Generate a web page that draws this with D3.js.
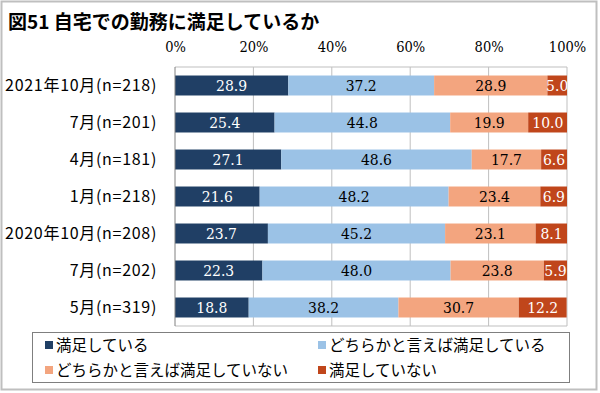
<!DOCTYPE html>
<html>
<head>
<meta charset="utf-8">
<script src="https://cdn.jsdelivr.net/npm/d3@7"></script>
<style>
    body { margin: 0; background: #fff; }
    .cat { font-family: "Noto Sans CJK JP", "Noto Sans", sans-serif; font-size: 16px; letter-spacing: 0.7px; fill: #000; }
    .tick-label { font-family: "DejaVu Serif Condensed", "DejaVu Serif", serif; font-stretch: condensed; font-size: 14.5px; }
    .val { font-family: "DejaVu Serif Condensed", "DejaVu Serif", serif; font-stretch: condensed; font-size: 15.5px; }
    .legend { font-family: "Noto Sans CJK JP", "Noto Sans", sans-serif; font-size: 15.5px; }
</style>
</head>
<body>
<div id="chart"></div>
<script>
/*
 * 図51 自宅での勤務に満足しているか
 * 100% stacked horizontal bars, one bar per survey wave.
 */

// Data
// --------------------------------------------------------------------------------------------
const title = "図51 自宅での勤務に満足しているか"

const categories = ["2021年10月(n=218)", "7月(n=201)", "4月(n=181)", "1月(n=218)",
                    "2020年10月(n=208)", "7月(n=202)", "5月(n=319)"]

const seriesNames = ["満足している", "どちらかと言えば満足している",
                     "どちらかと言えば満足していない", "満足していない"]

const satisfied       = [28.9, 25.4, 27.1, 21.6, 23.7, 22.3, 18.8]
const ratherSatisfied = [37.2, 44.8, 48.6, 48.2, 45.2, 48.0, 38.2]
const ratherNot       = [28.9, 19.9, 17.7, 23.4, 23.1, 23.8, 30.7]
const notSatisfied    = [5.0, 10.0, 6.6, 6.9, 8.1, 5.9, 12.2]

const tickValues = [0, 20, 40, 60, 80, 100]

const colours    = ["#203f65", "#9bc2e6", "#f3a57f", "#c0461b"]
const textColour = ["#fff", "#000", "#000", "#fff"]


function drawChart(container) {

    const width = 600, height = 393
    const plot = {left: 175, right: 567, top: 67, bottom: 326}

    // Build stack-ready rows from the named arrays
    let rows = categories.map((c, i) => ({
        cat: c,
        s0: satisfied[i], s1: ratherSatisfied[i], s2: ratherNot[i], s3: notSatisfied[i]
    }))
    let stack = d3.stack().keys(["s0", "s1", "s2", "s3"])(rows)

    // Scales
    let x = d3.scaleLinear().domain([0, 100]).range([plot.left, plot.right])
    let y = d3.scaleBand()
        .domain(categories.map((c, i) => i))
        .range([plot.top, plot.bottom])
        .paddingInner(0.46)
        .paddingOuter(0.23)

    let svg = d3.select(container).append("svg")
        .attr("width", width)
        .attr("height", height)

    // Outer frame
    svg.append("rect")
        .attr("x", 1.5).attr("y", 1.5)
        .attr("width", 595).attr("height", 388)
        .style("fill", "#fff")
        .style("stroke", "#bfbfbf")
        .style("stroke-width", 2)

    // Title
    svg.append("text")
        .attr("x", 8).attr("y", 29)
        .style("font-family", "'Noto Sans CJK JP', sans-serif")
        .style("font-size", "19px")
        .style("font-weight", "bold")
        .text(title)

    // Gridlines and plot border
    // -------------------------------------------------------------------------
    svg.append("g")
        .selectAll("line")
        .data(tickValues.slice(1))
        .join("line")
            .attr("x1", d => x(d)).attr("x2", d => x(d))
            .attr("y1", plot.top).attr("y2", plot.bottom)
            .style("stroke", "#bfbfbf")
            .style("stroke-width", 1)

    svg.append("line")
        .attr("x1", plot.left).attr("x2", plot.right)
        .attr("y1", plot.top).attr("y2", plot.top)
        .style("stroke", "#bfbfbf")

    svg.append("line")
        .attr("x1", plot.left).attr("x2", plot.right)
        .attr("y1", plot.bottom).attr("y2", plot.bottom)
        .style("stroke", "#bfbfbf")

    // Top axis labels
    let xAxis = d3.axisTop(x).tickValues(tickValues).tickFormat(d => d + "%").tickSize(0)
    let gx = svg.append("g")
        .attr("transform", "translate(0,52)")
        .call(xAxis)
    gx.select(".domain").remove()
    gx.selectAll("text")
        .attr("class", "tick-label")
        .attr("y", 0)
        .attr("dy", 0)
        .style("fill", "#000")

    // Category labels
    svg.append("g")
        .selectAll("text")
        .data(categories)
        .join("text")
            .attr("class", "cat")
            .attr("x", 157)
            .attr("y", (d, i) => y(i) + y.bandwidth() / 2)
            .attr("dy", "0.36em")
            .attr("text-anchor", "end")
            .text(d => d)

    // Bars
    // -------------------------------------------------------------------------
    svg.append("clipPath").attr("id", "plot-clip")
        .append("rect")
        .attr("x", plot.left).attr("y", plot.top)
        .attr("width", plot.right - plot.left).attr("height", plot.bottom - plot.top)

    let gBars = svg.append("g").attr("clip-path", "url(#plot-clip)")

    let layers = gBars.selectAll("g.layer")
        .data(stack)
        .join("g")
            .attr("class", "layer")

    layers.selectAll("rect")
        .data(d => d)
        .join("rect")
            .attr("x", d => x(d[0]))
            .attr("y", (d, i) => y(i))
            .attr("width", d => x(d[1]) - x(d[0]))
            .attr("height", y.bandwidth())
            .style("fill", function() { return colours[d3.select(this.parentNode).datum().index] })

    layers.selectAll("text")
        .data(d => d.map(v => ({v: v, k: d.index})))
        .join("text")
            .attr("class", "val")
            .attr("x", d => (x(d.v[0]) + x(d.v[1])) / 2)
            .attr("y", (d, i) => y(i) + y.bandwidth() / 2)
            .attr("dy", "0.36em")
            .attr("text-anchor", "middle")
            .style("fill", d => textColour[d.k])
            .text(d => (d.v[1] - d.v[0]).toFixed(1))

    // Left axis line
    svg.append("line")
        .attr("x1", plot.left).attr("x2", plot.left)
        .attr("y1", plot.top).attr("y2", plot.bottom)
        .style("stroke", "#808080")

    // Legend
    // -------------------------------------------------------------------------
    svg.append("rect")
        .attr("x", 32.5).attr("y", 332.5)
        .attr("width", 537).attr("height", 50)
        .style("fill", "#fff")
        .style("stroke", "#7f7f7f")

    let legendPos = [[45, 345], [318, 345], [45, 370], [318, 370]]
    let gLegend = svg.append("g")
        .selectAll("g")
        .data(seriesNames)
        .join("g")
            .attr("transform", (d, i) => "translate(" + legendPos[i][0] + "," + legendPos[i][1] + ")")

    gLegend.append("rect")
        .attr("x", 0).attr("y", -4)
        .attr("width", 8).attr("height", 8)
        .style("fill", (d, i) => colours[i])

    gLegend.append("text")
        .attr("class", "legend")
        .attr("x", 11)
        .attr("dy", "0.36em")
        .text(d => d)
}

drawChart("#chart")
</script>
</body>
</html>
